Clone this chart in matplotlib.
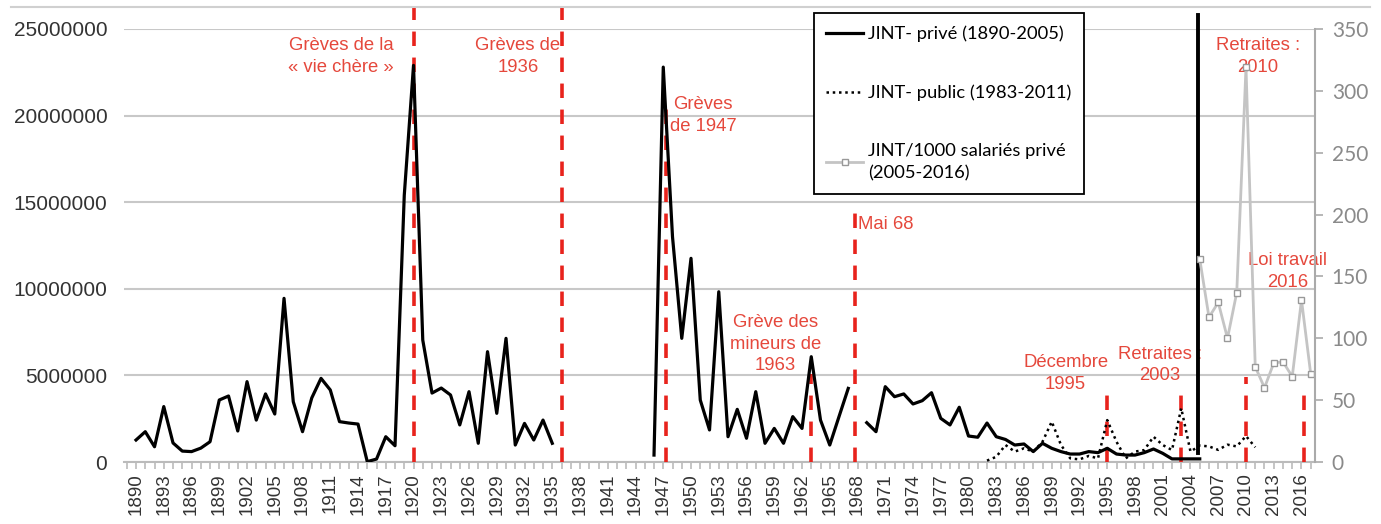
import numpy as np
import matplotlib
matplotlib.use("Agg")
import matplotlib.pyplot as plt
from matplotlib.lines import Line2D

nan = np.nan

# JINT privé 1890-2005 (gaps 1936-1945 and 1968)
private_years = list(range(1890, 2006))
private = [
    1.27, 1.75, 0.88, 3.2, 1.1, 0.63, 0.6, 0.8, 1.17, 3.58,      # 1890-1899
    3.81, 1.79, 4.64, 2.42, 3.93, 2.77, 9.45, 3.48, 1.75, 3.7,    # 1900-1909
    4.83, 4.16, 2.33, 2.25, 2.19, 0.02, 0.17, 1.46, 0.94, 15.4,   # 1910-1919
    22.9, 7.04, 3.98, 4.27, 3.87, 2.14, 4.06, 1.08, 6.37, 2.81,   # 1920-1929
    7.14, 0.98, 2.23, 1.27, 2.42, 1.08, nan, nan, nan, nan,       # 1930-1939
    nan, nan, nan, nan, nan, nan, 0.4, 22.8, 13.0, 7.14,          # 1940-1949
    11.76, 3.58, 1.85, 9.83, 1.46, 3.04, 1.37, 4.06, 1.08, 1.94,  # 1950-1959
    1.08, 2.62, 1.94, 6.08, 2.42, 0.98, 2.62, 4.25, nan, 2.27,    # 1960-1969
    1.75, 4.35, 3.77, 3.93, 3.35, 3.54, 4.0, 2.52, 2.14, 3.16,    # 1970-1979
    1.5, 1.43, 2.25, 1.46, 1.3, 0.98, 1.04, 0.6, 1.08, 0.79,      # 1980-1989
    0.6, 0.46, 0.46, 0.6, 0.54, 0.79, 0.46, 0.4, 0.4, 0.54,       # 1990-1999
    0.75, 0.5, 0.18, 0.18, 0.18, 0.18,                            # 2000-2005
]
private = [v * 1e6 for v in private]

# JINT public
public_years = list(range(1982, 2012))
public = [
    0.08, 0.3, 0.98, 0.6, 0.79, 0.6, 1.17, 2.33, 0.98, 0.21,
    0.15, 0.35, 0.21, 2.42, 1.17, 0.21, 0.6, 0.69, 1.46, 0.98,
    0.69, 3.1, 0.6, 0.95, 0.9, 0.7, 1.0, 0.9, 1.5, 0.85,
]
public = [v * 1e6 for v in public]

# JINT / 1000 salariés privé (right axis)
ratio_years = list(range(2005, 2018))
ratio = [164, 117, 129, 100, 137, 319, 77, 60, 80, 81, 69, 131, 71]

# red dashed event markers (year, top of the line in left-axis units)
event_years = [1920, 1936, 1947.3, 1963, 1967.7, 1995, 2003, 2010, 2016.3]
event_tops = [26.3e6, 26.3e6, 20.6e6, 5.1e6, 14.8e6, 4.5e6, 4.0e6, 4.9e6, 4.0e6]

# event labels: text, x (year), y (left units), alignment
labels = [
    ("Grèves de la\n« vie chère »", 1912.2, 23.4e6, "center"),
    ("Grèves de\n1936", 1931.3, 23.4e6, "center"),
    ("Grèves\nde 1947", 1951.3, 20.0e6, "center"),
    ("Mai 68", 1968.1, 13.7e6, "left"),
    ("Grève des\nmineurs de\n1963", 1959.1, 6.8e6, "center"),
    ("Décembre\n1995", 1990.5, 5.1e6, "center"),
    ("Retraites :\n2003", 2000.7, 5.6e6, "center"),
    ("Retraites :\n2010", 2011.3, 23.4e6, "center"),
    ("Loi travail\n2016", 2014.5, 11.0e6, "center"),
]

# black separator drawn at the end of the private series
sep_x = [2004.85, 2004.85]
sep_y = [0.5e6, 25.8e6]

RED_LINE = "#e8231c"
RED_TEXT = "#e5483c"
GRID = "#c8c8c8"

fig = plt.figure(figsize=(13.81, 5.24), dpi=100)
ax = fig.add_axes([124 / 1381, 1 - 462 / 524, (1315 - 124) / 1381, (462 - 29) / 524])
ax2 = ax.twinx()

ax.set_xlim(1888.7, 2017.46)
ax.set_ylim(0, 25e6)
ax2.set_ylim(0, 350)

ax.set_yticks(np.arange(0, 25e6 + 1, 5e6))
ax.set_yticklabels([f"{int(v)}" for v in np.arange(0, 25e6 + 1, 5e6)],
                   family="Liberation Sans", fontsize=15, color="#333333")
ax.yaxis.grid(True, color=GRID, linewidth=1.5)
ax.set_axisbelow(True)
ax.tick_params(axis="y", length=0, pad=12)

ax.set_xticks(range(1890, 2017, 3))
ax.set_xticks(range(1889, 2018), minor=True)
ax.set_xticklabels([str(y) for y in range(1890, 2017, 3)], rotation=90,
                   family="Liberation Sans", fontsize=13.5, color="#333333")
ax.tick_params(axis="x", which="both", length=5, color="#bbbbbb", width=1.2, pad=3)

for s in ["top", "left", "right"]:
    ax.spines[s].set_visible(False)
ax.spines["bottom"].set_color("#bbbbbb")
ax.spines["bottom"].set_linewidth(1.5)

for s in ["top", "left", "bottom"]:
    ax2.spines[s].set_visible(False)
ax2.spines["right"].set_color("#aaaaaa")
ax2.spines["right"].set_linewidth(1.5)
ax2.set_yticks(range(0, 351, 50))
ax2.set_yticklabels([str(v) for v in range(0, 351, 50)], family="Lato",
                    fontsize=15, color="#8a8a8a")
ax2.tick_params(axis="y", length=6, color="#aaaaaa", width=1.2, pad=6)

# event lines
ax.vlines(event_years, 0, event_tops, colors=RED_LINE, linewidth=2.6,
          linestyles=(0, (4, 3.2)), clip_on=False, zorder=3)

for text, x, y, ha in labels:
    ax.text(x, y, text, color=RED_TEXT, fontsize=13.3, family="Liberation Sans",
            ha=ha, va="center", linespacing=1.35, zorder=4)

l1, = ax.plot(private_years, private, color="black", linewidth=2.3, zorder=5)
l2, = ax.plot(public_years, public, color="black", linewidth=1.8,
              linestyle=(0, (1, 1.5)), zorder=5)
ax.plot(sep_x, sep_y, color="black", linewidth=2.8, clip_on=False, zorder=5)

l3, = ax2.plot(ratio_years, ratio, color="#c4c4c4", linewidth=2.0, marker="s",
               markersize=4.5, markerfacecolor="white", markeredgecolor="#999999",
               markeredgewidth=1.0)

leg = ax2.legend([l1, l2, l3],
                 ["JINT- privé (1890-2005)", "JINT- public (1983-2011)",
                  "JINT/1000 salariés privé\n(2005-2016)"],
                 loc="upper left", bbox_to_anchor=(0.579, 1.037),
                 prop={"family": "Lato", "size": 13.2}, frameon=True,
                 fancybox=False, edgecolor="black", framealpha=1,
                 labelspacing=2.3, handlelength=2.0, handletextpad=0.25,
                 borderpad=0.7, borderaxespad=0)
leg.get_frame().set_linewidth(1.3)
for t in leg.get_texts():
    t.set_linespacing(1.45)

fig.add_artist(Line2D([0.008, 0.992], [1 - 7 / 524, 1 - 7 / 524],
                      color="#d0d0d0", linewidth=1.5))

fig.savefig("out.png", dpi=100)
